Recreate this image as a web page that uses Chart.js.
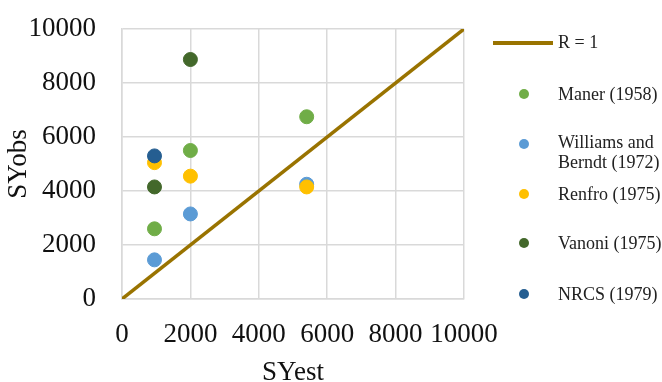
<!DOCTYPE html>
<html>
<head>
<meta charset="utf-8">
<script src="https://cdn.jsdelivr.net/npm/chart.js@4.4.1/dist/chart.umd.min.js"></script>
<style>
    body { margin: 0; background: #fff; }
    #wrap { position: relative; width: 662px; height: 382px; }
    #legend { position: absolute; left: 0; top: 0; font-family: 'Liberation Serif', serif; font-size: 18px; color: #222; }
    .item { position: absolute; left: 0; }
    .dot { position: absolute; width: 10px; height: 10px; border-radius: 50%; }
    .lbl { position: absolute; left: 558px; line-height: 20px; white-space: nowrap; }
</style>
</head>
<body>
<div id="wrap">
    <canvas id="syChart" width="662" height="382"></canvas>
    <div id="legend"></div>
</div>
<script>
// Series data (SYest, SYobs)
const seriesNames = ['Maner (1958)', 'Williams and Berndt (1972)', 'Renfro (1975)', 'Vanoni (1975)', 'NRCS (1979)'];
const seriesColors = ['#70AD47', '#5B9BD5', '#FFC000', '#43682B', '#255E91'];

const manerEst = [950, 2000, 5400];
const manerObs = [2600, 5500, 6750];

const williamsEst = [950, 2000, 5400];
const williamsObs = [1450, 3150, 4250];

const renfroEst = [950, 2000, 5400];
const renfroObs = [5050, 4550, 4150];

const vanoniEst = [950, 2000];
const vanoniObs = [4150, 8870];

const nrcsEst = [950];
const nrcsObs = [5300];

const lineEst = [0, 10000];
const lineObs = [0, 10000];

const axisTicks = [0, 2000, 4000, 6000, 8000, 10000];

function toPoints(xs, ys) {
    return xs.map((x, i) => ({ x: x, y: ys[i] }));
}

const estLists = [manerEst, williamsEst, renfroEst, vanoniEst, nrcsEst];
const obsLists = [manerObs, williamsObs, renfroObs, vanoniObs, nrcsObs];

const datasets = seriesNames.map((name, i) => ({
    type: 'scatter',
    label: name,
    data: toPoints(estLists[i], obsLists[i]),
    backgroundColor: seriesColors[i],
    borderColor: seriesColors[i],
    pointRadius: 7,
    pointHoverRadius: 7,
    order: 5 - i
}));

datasets.push({
    type: 'line',
    label: 'R = 1',
    data: toPoints(lineEst, lineObs),
    borderColor: '#997300',
    borderWidth: 3.5,
    pointRadius: 0,
    fill: false,
    order: 6
});

const serif = 'Liberation Serif';

const ctx = document.getElementById('syChart').getContext('2d');
new Chart(ctx, {
    type: 'scatter',
    data: { datasets: datasets },
    options: {
        responsive: false,
        animation: false,
        layout: { padding: { top: 29, right: 198, bottom: 0, left: 0 } },
        scales: {
            x: {
                type: 'linear',
                min: 0,
                max: 10000,
                afterBuildTicks: axis => { axis.ticks = axisTicks.map(v => ({ value: v })); },
                afterFit: scale => { scale.height = 83; },
                grid: { color: '#D9D9D9', lineWidth: 1.5, drawTicks: false },
                border: { color: '#D9D9D9', width: 1.5 },
                ticks: {
                    color: '#111', padding: 20, maxRotation: 0, autoSkip: false,
                    callback: v => String(v),
                    font: { family: serif, size: 27 }
                },
                title: { display: true, text: 'SYest', color: '#111', padding: 0, font: { family: serif, size: 27, lineHeight: 0.7 } }
            },
            y: {
                type: 'linear',
                min: 0,
                max: 10000,
                afterBuildTicks: axis => { axis.ticks = axisTicks.map(v => ({ value: v })); },
                // fixed axis width; drop the extra label padding so the plot top sits at 29px
                afterFit: scale => { scale.width = 122; scale.paddingTop = 0; scale.paddingBottom = 0; },
                grid: { color: '#D9D9D9', lineWidth: 1.5, drawTicks: false },
                border: { color: '#D9D9D9', width: 1.5 },
                ticks: {
                    color: '#111', padding: 26, autoSkip: false,
                    callback: v => String(v),
                    font: { family: serif, size: 27 }
                },
                title: { display: true, text: 'SYobs', color: '#111', padding: 5, font: { family: serif, size: 27, lineHeight: 1 } }
            }
        },
        plugins: {
            legend: { display: false },
            tooltip: { enabled: false }
        }
    }
});

// HTML legend on the right
const legend = document.getElementById('legend');
let html = '<div class="item" style="top:41px;left:493px;width:60px;height:4px;background:#997300"></div>' +
    '<div class="lbl" style="top:32px">R = 1</div>';
const dotY = [94, 144, 194, 243, 294];
const textY = [84, 132, 184, 233, 284];
seriesNames.forEach((name, i) => {
    html += '<div class="dot" style="left:519px;top:' + (dotY[i] - 5) + 'px;background:' + seriesColors[i] + '"></div>';
    const text = name === 'Williams and Berndt (1972)' ? 'Williams and<br>Berndt (1972)' : name;
    html += '<div class="lbl" style="top:' + textY[i] + 'px">' + text + '</div>';
});
legend.innerHTML = html;
</script>
</body>
</html>
